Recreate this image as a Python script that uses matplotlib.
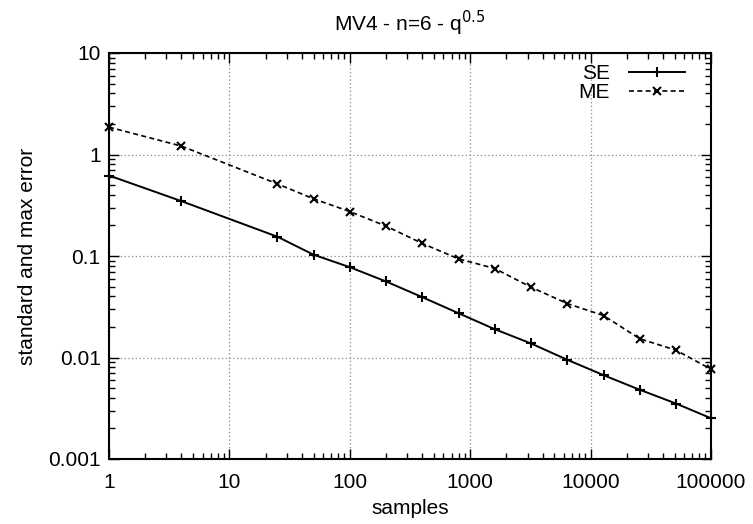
import matplotlib
matplotlib.use("Agg")
import matplotlib.pyplot as plt
from matplotlib.ticker import LogLocator, FixedLocator, FixedFormatter, NullFormatter

plt.rcParams['font.family'] = ['Liberation Sans', 'DejaVu Sans']

# samples and errors
samples = [1, 4, 25, 50, 100, 200, 400, 800, 1600, 3200, 6400, 12800, 25600, 51200, 100000]
se = [0.621, 0.347, 0.155, 0.103, 0.0776, 0.0561, 0.0393, 0.0273, 0.019, 0.01375,
      0.0095, 0.0067, 0.00481, 0.00352, 0.00252]
me = [1.86, 1.21, 0.514, 0.366, 0.274, 0.197, 0.133, 0.0938, 0.0753, 0.0493,
      0.034, 0.0259, 0.0153, 0.0118, 0.00767]

xticks = [1, 10, 100, 1000, 10000, 100000]
xlabels = ['1', '10', '100', '1000', '10000', '100000']
yticks = [0.001, 0.01, 0.1, 1, 10]
ylabels = ['0.001', '0.01', '0.1', '1', '10']

fs = 15
fig = plt.figure(figsize=(7.53, 5.24), dpi=100)
ax = fig.add_axes([109 / 753, 1 - 459 / 524, (711 - 109) / 753, (459 - 53) / 524])

ax.plot(samples, se, color='black', lw=1.4, marker='+', ms=7, mew=1.5, label='SE',
        clip_on=False, zorder=3)
ax.plot(samples, me, color='black', lw=1.2, ls=(0, (3, 2)), marker='x', ms=6, mew=1.5,
        label='ME', clip_on=False, zorder=3)

ax.set_xscale('log')
ax.set_yscale('log')
ax.set_xlim(1, 100000)
ax.set_ylim(0.001, 10)

ax.xaxis.set_major_locator(FixedLocator(xticks))
ax.xaxis.set_major_formatter(FixedFormatter(xlabels))
ax.yaxis.set_major_locator(FixedLocator(yticks))
ax.yaxis.set_major_formatter(FixedFormatter(ylabels))
ax.xaxis.set_minor_locator(LogLocator(base=10, subs=range(2, 10), numticks=20))
ax.yaxis.set_minor_locator(LogLocator(base=10, subs=range(2, 10), numticks=20))
ax.xaxis.set_minor_formatter(NullFormatter())
ax.yaxis.set_minor_formatter(NullFormatter())

ax.tick_params(which='both', direction='in', top=True, right=True, labelsize=fs, color='black')
ax.tick_params(which='major', length=7, width=1)
ax.tick_params(which='minor', length=4, width=1)
ax.tick_params(axis='x', pad=10)
ax.tick_params(axis='y', pad=6)

ax.grid(True, which='major', color='#888888', ls=(0, (1, 2)), lw=0.9)
for s in ax.spines.values():
    s.set_linewidth(1.5)

ax.set_xlabel('samples', fontsize=fs, labelpad=5)
ax.set_ylabel('standard and max error', fontsize=fs, labelpad=8)
ax.set_title('MV4 - n=6 - q$^{0.5}$', fontsize=fs, pad=16)

ax.legend(loc='upper right', frameon=False, fontsize=fs, markerfirst=False,
          handlelength=2.7, handletextpad=0.9, labelspacing=0.0,
          borderaxespad=0.15, bbox_to_anchor=(0.976, 1.0))

fig.savefig('out.png', dpi=100)
